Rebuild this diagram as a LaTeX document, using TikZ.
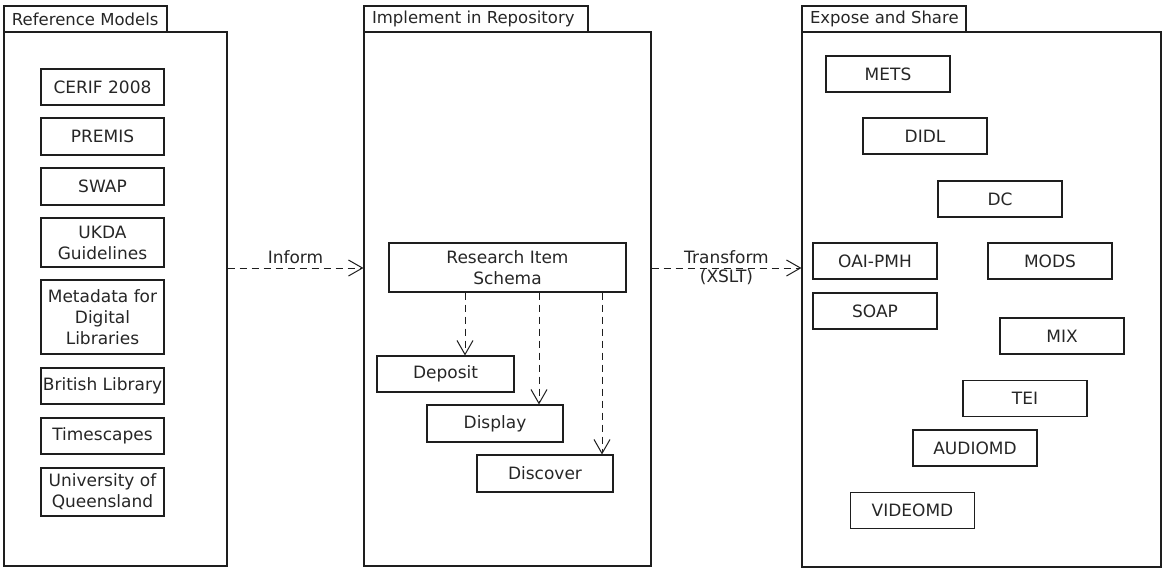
\documentclass[tikz,border=0pt]{standalone}
\usepackage{fontspec}
\setmainfont{DejaVu Sans}
\usetikzlibrary{arrows.meta}
\definecolor{txt}{HTML}{262626}
\definecolor{ln}{HTML}{1E1E1E}
\newcommand{\tabtxt}[2]{\makebox[#1][l]{#2}}
\begin{document}
\begin{tikzpicture}[x=1pt,y=-1pt,
  every node/.style={text=txt, font=\fontsize{17}{21}\selectfont},
  box/.style={draw=ln, line width=1.1pt, inner sep=0pt, align=center},
  pkg/.style={draw=ln, line width=1.1pt, inner sep=0pt},
  tab/.style={draw=ln, line width=1.1pt, inner xsep=8pt, inner ysep=0pt, minimum height=26pt, font=\fontsize{16.5}{20}\selectfont},
  dep/.style={draw=ln, line width=1pt, dash pattern=on 7pt off 5pt, -{Straight Barb[length=14pt,width=16pt,line width=1pt]}},
  lbl/.style={font=\fontsize{17}{19}\selectfont, align=center}
]
\useasboundingbox (0,0) rectangle (1162,568);

% packages
\node[tab] (reftab) at (85.5,19) {\tabtxt{147pt}{Reference Models}};
\node[pkg, minimum width=223pt, minimum height=534pt] (refpkg) at (115.5,299) {};
\node[tab] (impltab) at (476,19) {\tabtxt{208pt}{Implement in Repository}};
\node[pkg, minimum width=287pt, minimum height=534pt] (implpkg) at (507.5,299) {};
\node[tab] (exptab) at (884,19) {\tabtxt{148pt}{Expose and Share}};
\node[pkg, minimum width=359pt, minimum height=535pt] (exppkg) at (981.5,299.5) {};

% reference models
\tikzset{lb/.style={box, minimum width=123pt}}
\node[lb, minimum height=36pt] (cerif) at (102.5,87) {CERIF 2008};
\node[lb, minimum height=37pt] (premis) at (102.5,136.5) {PREMIS};
\node[lb, minimum height=37pt] (swap) at (102.5,186.5) {SWAP};
\node[lb, minimum height=49pt] (ukda) at (102.5,242.5) {UKDA\\Guidelines};
\node[lb, minimum height=74pt] (mdl) at (102.5,317) {Metadata for\\Digital\\Libraries};
\node[lb, minimum height=36pt] (bl) at (102.5,386) {British Library};
\node[lb, minimum height=36pt] (ts) at (102.5,436) {Timescapes};
\node[lb, minimum height=48pt] (uq) at (102.5,492) {University of\\Queensland};

% implement
\node[box, minimum width=237pt, minimum height=49pt] (schema) at (507.5,267.5) {Research Item\\Schema};
\node[box, minimum width=137pt, minimum height=36pt] (deposit) at (445.5,374) {Deposit};
\node[box, minimum width=136pt, minimum height=37pt] (display) at (495,423.5) {Display};
\node[box, minimum width=136pt, minimum height=37pt] (discover) at (545,473.5) {Discover};

% expose
\tikzset{rb/.style={box, minimum width=124pt, minimum height=36pt}}
\node[rb] (mets) at (888,74) {METS};
\node[rb] (didl) at (925,136) {DIDL};
\node[rb] (dc) at (1000,199) {DC};
\node[rb] (oai) at (875,261) {OAI-PMH};
\node[rb] (mods) at (1050,261) {MODS};
\node[rb] (soap) at (875,311) {SOAP};
\node[rb] (mix) at (1062,336) {MIX};
\node[rb] (tei) at (1025,398.5) {TEI};
\node[rb] (audiomd) at (975,448) {AUDIOMD};
\node[rb] (videomd) at (912.5,510.5) {VIDEOMD};

% connectors
\coordinate (ax1) at (465,0);
\coordinate (ax2) at (539,0);
\coordinate (ax3) at (602,0);
\coordinate (ly) at (0,268);
\draw[dep] (refpkg.east |- ly) -- node[above, inner sep=4pt] {Inform} (implpkg.west |- ly);
\draw[dep] (implpkg.east |- ly) -- node[lbl] {Transform\\(XSLT)} (exppkg.west |- ly);
\draw[dep] (schema.south -| ax1) -- (deposit.north -| ax1);
\draw[dep] (schema.south -| ax2) -- (display.north -| ax2);
\draw[dep] (schema.south -| ax3) -- (discover.north -| ax3);
\end{tikzpicture}
\end{document}
